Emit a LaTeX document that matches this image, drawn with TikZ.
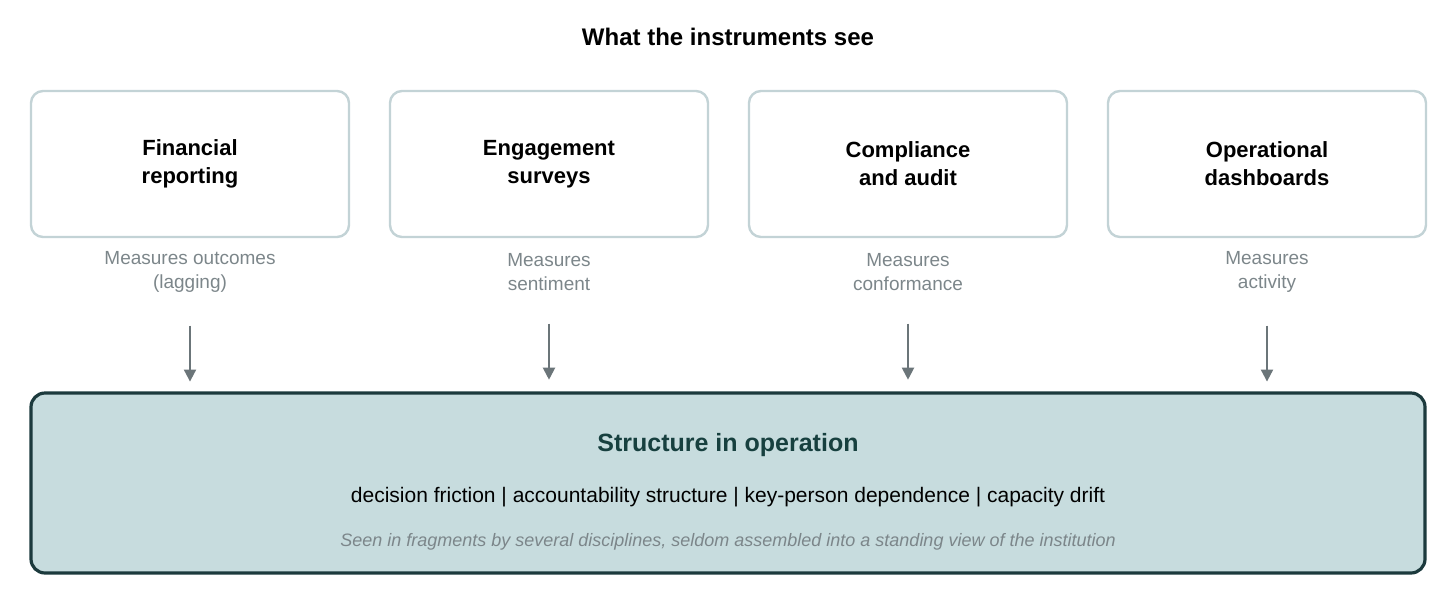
\documentclass[tikz,border=0pt]{standalone}
\usepackage{fontspec}
\setmainfont{Liberation Sans}
\usetikzlibrary{arrows.meta, positioning}
\definecolor{boxline}{HTML}{C3D3D6}
\definecolor{labelgrey}{HTML}{7C868A}
\definecolor{arrowgrey}{HTML}{6B7579}
\definecolor{opfill}{HTML}{C7DCDE}
\definecolor{opline}{HTML}{1C3A3D}
\definecolor{optitle}{HTML}{17403F}

\begin{document}
\begin{tikzpicture}[node distance=179.5pt,on grid]
    \tikzstyle{instr}=[shape=rectangle,rounded corners=6pt,draw=boxline,line width=1.2pt,minimum width=159pt,minimum height=73pt,align=center,font=\fontsize{11}{14}\selectfont\bfseries]
    \tikzstyle{measure}=[align=center,text=labelgrey,font=\fontsize{9.5}{12}\selectfont]
    \tikzstyle{feed}=[-{Triangle[length=6pt,width=6pt]},draw=arrowgrey,line width=1pt]

    \useasboundingbox (0,0) rectangle (728pt,-298pt);

    \node[font=\fontsize{12}{14}\selectfont\bfseries] (title) at (364pt,-18.5pt) {What the instruments see};

    \node[instr] (fin) at (95pt,-82pt) {Financial\\reporting};
    \node[instr,right=of fin] (eng) {Engagement\\surveys};
    \node[instr,right=of eng] (comp) {Compliance\\and audit};
    \node[instr,right=of comp] (ops) {Operational\\dashboards};

    \node[measure,below=54pt of fin] (mfin) {Measures outcomes\\(lagging)};
    \node[measure,below=54pt of eng] (meng) {Measures\\sentiment};
    \node[measure,below=54pt of comp] (mcomp) {Measures\\conformance};
    \node[measure,below=54pt of ops] (mops) {Measures\\activity};

    \node[shape=rectangle,rounded corners=7pt,fill=opfill,draw=opline,line width=1.6pt,minimum width=697pt,minimum height=90pt] (struct) at (364pt,-241.5pt) {};
    \node[text=optitle,font=\fontsize{12.5}{15}\selectfont\bfseries] (stitle) at (364pt,-222.5pt) {Structure in operation};
    \node[font=\fontsize{10.5}{13}\selectfont] (slist) at (364pt,-248.5pt) {decision friction | accountability structure | key-person dependence | capacity drift};
    \node[text=labelgrey,font=\fontsize{9}{11}\selectfont\itshape] (snote) at (364pt,-271pt) {Seen in fragments by several disciplines, seldom assembled into a standing view of the institution};

    \foreach \m in {mfin,meng,mcomp,mops}
      \draw[feed] (\m.south) ++(0,-13pt) coordinate (\m a) -- ([yshift=-28pt]\m a);

  \end{tikzpicture}
\end{document}
